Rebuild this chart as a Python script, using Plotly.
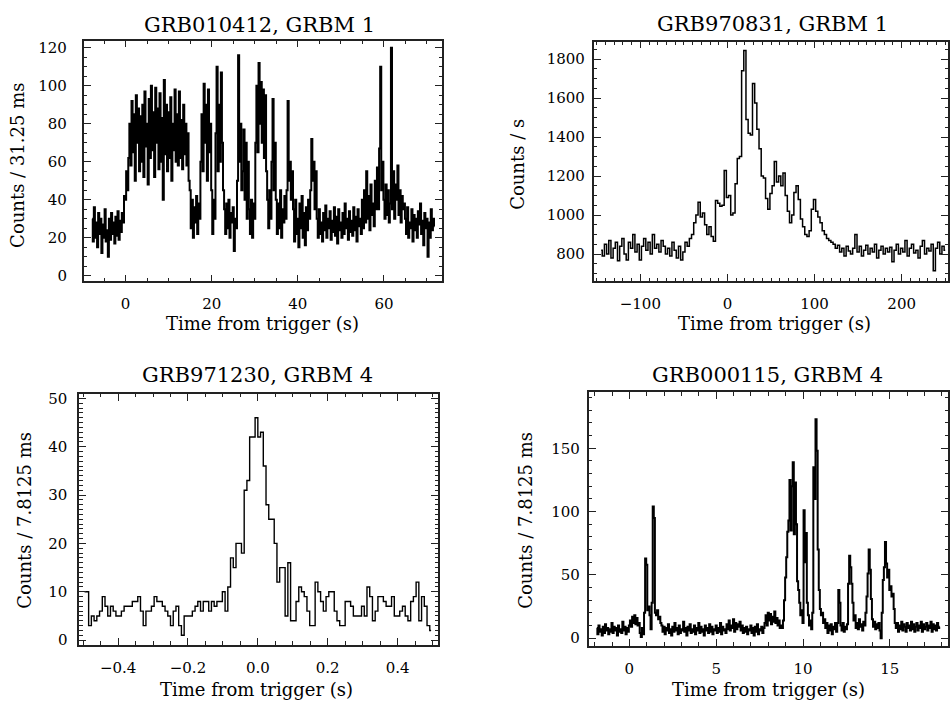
import numpy as np
import plotly.graph_objects as go

W, H = 950, 709
FONT = "DejaVu Serif"

# ---------------- GRB010412, GRBM 1 (samples every 0.25 s from -7.75 s)
t0_a, dt_a = -7.75, 0.25
counts_a = [
    30, 18, 36, 20, 28, 15, 33, 22, 30, 12, 27, 20, 35, 18, 24, 10, 30, 19, 33, 22,
    28, 17, 31, 21, 34, 19, 29, 23, 33, 28, 42,
    40, 55, 45, 62,
    80, 58, 92, 65, 85, 50, 95, 70, 88, 55, 84, 60, 90, 52, 97, 68, 80, 48, 93, 62,
    100, 66, 86, 52, 99, 70, 88, 56, 96, 60, 83, 40, 103, 64, 90, 55, 86, 62, 94, 50,
    80, 66, 98, 60, 85, 58, 97, 62, 82, 56, 90, 64, 80, 58, 75, 50,
    45, 25, 40, 20, 36, 28, 42, 22, 38, 30,
    60, 85, 55, 101, 70, 90, 50, 98, 65, 80,
    45, 22, 40, 30,
    75, 110, 55, 90, 60, 107, 70, 45,
    35, 22, 38, 25, 40, 20, 33, 28, 36, 13, 30, 25,
    50, 116, 60, 80, 45,
    55, 77, 40, 70, 30, 60,
    35, 22, 40, 20, 38, 30,
    70, 100, 65, 112, 80, 102, 70, 98, 62, 95, 55,
    40, 25, 45, 30,
    60, 93, 45, 70,
    40, 22, 38, 25, 45, 20, 35, 28, 42, 30,
    45, 92, 50, 60, 40, 55,
    35, 18, 40, 22, 30, 15, 38, 25, 42, 20, 33, 16, 36, 24, 40, 30,
    45, 72, 50, 60, 35, 55,
    30, 20, 35, 22, 28, 18, 33, 24, 37, 20, 30, 25, 34, 19, 29, 23, 36, 21, 31, 17,
    35, 24, 28, 20, 33, 22, 38, 25, 30, 19, 34, 23, 29, 21, 36, 24, 31, 18, 35, 26,
    30, 22,
    40, 25, 45, 28, 55, 30, 42, 24, 48, 32, 38, 26, 50, 35,
    57, 35, 67, 110, 45, 60,
    40, 30, 48, 32, 45, 28, 38,
    120,
    35, 55, 30, 48, 40, 58, 32, 45, 28, 42, 35, 38,
    30, 22, 36, 20, 28, 25, 35, 18, 32, 24, 30, 20, 34, 27, 38, 22, 29, 16, 33, 25,
    30, 10, 28, 20, 35, 24, 30, 26,
]

# ---------------- GRB970831, GRBM 1 (rate, samples every 2.5 s from -145 s)
t0_b, dt_b = -145.0, 2.5
counts_b = [
    820, 790, 850, 800, 870, 780, 830, 860, 765, 840, 880, 800, 770, 860, 830, 900,
    810, 850, 770, 840, 880, 820, 860, 800, 900, 830, 850, 810, 870, 840, 800, 830,
    790, 860, 820, 780, 840, 770, 810, 860, 840, 880,
    900, 960, 1000, 1065, 990, 1010, 950, 900, 940, 890, 865, 1075, 1060, 1045, 1050,
    1228, 1090,
    1100, 1000, 1010, 1160, 1290, 1300, 1740, 1844, 1490, 1420, 1410, 1675, 1575,
    1440, 1340, 1200, 1190, 1085, 1030, 1110,
    1150, 1275, 1170, 1200, 1150, 1215, 1100, 1020, 960, 1000, 1115, 1150, 1080, 980,
    940, 900, 890, 920, 1030, 1080,
    1020, 990, 960, 920, 900, 880, 870, 860, 850, 830, 845, 810, 830, 790, 840, 815,
    800, 830, 900, 810, 840, 790, 820, 845, 800, 830, 810, 850, 780, 820, 840, 800,
    830, 810, 835, 760, 820, 850, 800, 830, 810, 870, 790, 830, 850, 805, 820, 780,
    840, 870, 800, 830, 815, 850, 714, 830, 860, 800, 840, 820,
]

# ---------------- GRB971230, GRBM 4 (7.8125 ms bins, centres from -0.496 s)
t0_c, dt_c = -0.5 + 0.0078125 / 2, 0.0078125
counts_c = [
    10, 10, 3, 5, 4, 5, 6, 9, 7, 5, 7, 6, 5, 5, 6, 7, 7, 7, 8, 8,
    9, 6, 3, 6, 6, 7, 9, 8, 8, 7, 6, 5, 3, 6, 7, 3, 1, 5, 5, 5,
    6, 7, 8, 6, 8, 8, 6, 8, 7, 8, 8, 10, 6, 11, 17, 15, 20, 20, 18, 31,
    33, 42, 42, 46, 42, 43, 36, 28, 25, 25, 20, 12, 15, 15, 5, 16, 4, 4, 8, 11,
    10, 9, 6, 3, 3, 12, 10, 8, 6, 9, 10, 10, 6, 4, 3, 3, 8, 8, 7, 5,
    5, 5, 7, 5, 11, 9, 4, 6, 9, 9, 8, 7, 7, 9, 5, 5, 6, 7, 5, 4,
    8, 9, 12, 4, 9, 7, 3, 2,
]

# ---------------- GRB000115, GRBM 4 (samples every 0.0625 s from -1.875 s)
t0_d, dt_d = -1.875, 0.0625
counts_d = [
    8, 3, 10, 5, 7, 2, 9, 4, 11, 6, 8, 3, 7, 5, 12, 4, 9, 6, 8, 2,
    10, 5, 7, 4, 13, 6, 9, 3, 8, 5,
    10, 14, 9, 17, 12, 18, 11, 16, 10, 12, 4, 1, 8,
    3, 20, 63, 58, 22, 25, 18, 7, 28, 104, 95, 20, 18, 22, 15, 17, 12, 10,
    5, 9, 3, 8, 6, 11, 4, 7, 2, 9, 5, 12, 6, 8, 3, 10, 4, 7, 6, 13,
    5, 8, 2, 9, 6, 11, 4, 7, 5, 10, 3, 8, 6, 12, 4, 9, 5, 7, 2, 10,
    6, 8, 4, 11, 5, 9, 3, 7, 6, 10, 4, 8, 5, 12, 3, 9, 6, 7, 4, 11,
    7, 14, 6, 10, 8, 15, 5, 12, 7, 11, 9, 13, 6, 10, 4, 8, 5, 9, 3, 7,
    6, 10, 4, 8, 2, 9, 5, 11, 3, 7, 6, 9, 4, 8,
    12, 18, 10, 20, 14, 19, 11, 17, 13, 21, 12, 16, 10, 14, 8,
    10, 8, 14, 30, 48, 64, 84, 93, 125, 85, 120, 139, 82, 123, 90, 45, 38, 28, 18, 22,
    12, 101, 60, 83, 28, 18, 10, 14, 7, 20, 135, 110, 173, 148, 70, 38, 23, 18, 20, 12,
    15,
    8, 12, 4, 10, 6, 11, 3, 9, 7, 12, 5,
    12, 38, 28,
    10, 6, 12, 5, 9, 7, 11,
    43, 65, 56, 43, 28,
    14, 18, 8, 12, 7, 15, 9, 11, 6, 13, 10,
    20, 33, 51, 70, 54, 31,
    15, 9, 13, 7, 11, 8, 12, 6,
    0, 20, 46, 56, 76, 59, 48, 54, 38, 41, 33, 35, 23, 12,
    8, 12, 5, 10, 7, 13, 6, 11, 9, 5, 12, 8, 10, 6, 13, 7, 11, 5, 9, 12,
    6, 10, 8, 13, 5, 11, 7, 9, 12, 6, 10, 8, 13, 5, 11, 7, 10, 6, 12, 8, 9,
]

titles = ["GRB010412, GRBM 1", "GRB970831, GRBM 1", "GRB971230, GRBM 4", "GRB000115, GRBM 4"]
ytitles = ["Counts / 31.25 ms", "Counts / s", "Counts / 7.8125 ms", "Counts / 7.8125 ms"]
xtitle = "Time from trigger (s)"

series = [
    (t0_a, dt_a, counts_a, 2.0),
    (t0_b, dt_b, counts_b, 1.5),
    (t0_c, dt_c, counts_c, 1.4),
    (t0_d, dt_d, counts_d, 2.0),
]

fig = go.Figure()
for k, (t0, dt, vals, lw) in enumerate(series):
    t = t0 + dt * np.arange(len(vals))
    sfx = "" if k == 0 else str(k + 1)
    fig.add_trace(go.Scatter(
        x=t, y=vals, mode="lines", line=dict(color="black", width=lw, shape="hvh"),
        xaxis="x" + sfx, yaxis="y" + sfx, showlegend=False, hoverinfo="skip",
    ))


def px(x):
    return x / W


def py(y):
    return 1 - y / H


# frame boxes in pixels (left, right, top, bottom)
boxes = [
    (84, 443, 37, 281),
    (595, 950, 38, 280.5),
    (79.5, 439, 395, 649),
    (590, 950, 393.3, 650),
]
xranges = [[-9.7, 73.5], [-153.5, 253.2], [-0.511, 0.516], [-2.34, 18.35]]
yranges = [[-3.0, 123.8], [662, 1890], [-0.96, 50.9], [-6.0, 194.2]]
xdt = [(20, 5), (100, 10), (0.2, 0.05), (5, 1)]
ydt = [(20, 5), (200, 50), (10, 1), (50, 10)]
ystand = [12, 4, 7, 4]

frame_col = "#222222"
for k in range(4):
    l, r, t, b = boxes[k]
    sfx = "" if k == 0 else str(k + 1)
    common = dict(
        showline=True, linewidth=1.8, linecolor=frame_col, mirror="allticks",
        ticks="inside", ticklen=7, tickwidth=1.3, tickcolor=frame_col,
        showgrid=False, zeroline=False,
        tickfont=dict(family=FONT, size=15, color="#000"),
    )
    fig.layout["xaxis" + sfx] = dict(
        common, domain=[px(l), min(px(r), 1.0)], range=xranges[k],
        anchor="y" + sfx, dtick=xdt[k][0], tick0=0,
        tickformat=".1f" if k == 2 else None,
        ticklabelstandoff=8,
        minor=dict(ticks="inside", ticklen=3.5, tickwidth=1.1, tickcolor=frame_col,
                   dtick=xdt[k][1], tick0=0, showgrid=False),
    )
    fig.layout["yaxis" + sfx] = dict(
        common, domain=[py(b), py(t)], range=yranges[k],
        anchor="x" + sfx, dtick=ydt[k][0], tick0=0,
        ticklabelstandoff=ystand[k],
        minor=dict(ticks="inside", ticklen=3.5, tickwidth=1.1, tickcolor=frame_col,
                   dtick=ydt[k][1], tick0=0, showgrid=False),
    )

# text placements (pixel centres)
title_pos = [(260.5, 21), (774, 20), (258, 376), (769, 376)]
xtitle_pos = [(263, 324), (776, 324), (257.5, 694), (770, 694)]
ytitle_pos = [(18, 163), (519, 162), (25, 522.5), (527, 522.5)]

ann = []
for k in range(4):
    ann.append(dict(text=titles[k], x=px(title_pos[k][0]), y=py(title_pos[k][1]),
                    xref="paper", yref="paper", showarrow=False,
                    xanchor="center", yanchor="middle",
                    font=dict(family=FONT, size=21, color="#000")))
    ann.append(dict(text=xtitle, x=px(xtitle_pos[k][0]), y=py(xtitle_pos[k][1]),
                    xref="paper", yref="paper", showarrow=False,
                    xanchor="center", yanchor="middle",
                    font=dict(family=FONT, size=18, color="#000")))
    ann.append(dict(text=ytitles[k], x=px(ytitle_pos[k][0]), y=py(ytitle_pos[k][1]),
                    xref="paper", yref="paper", showarrow=False, textangle=-90,
                    xanchor="center", yanchor="middle",
                    font=dict(family=FONT, size=18, color="#000")))

fig.update_layout(
    width=W, height=H, margin=dict(l=0, r=0, t=0, b=0),
    paper_bgcolor="white", plot_bgcolor="white",
    annotations=ann,
)

fig.write_html("out.html")
